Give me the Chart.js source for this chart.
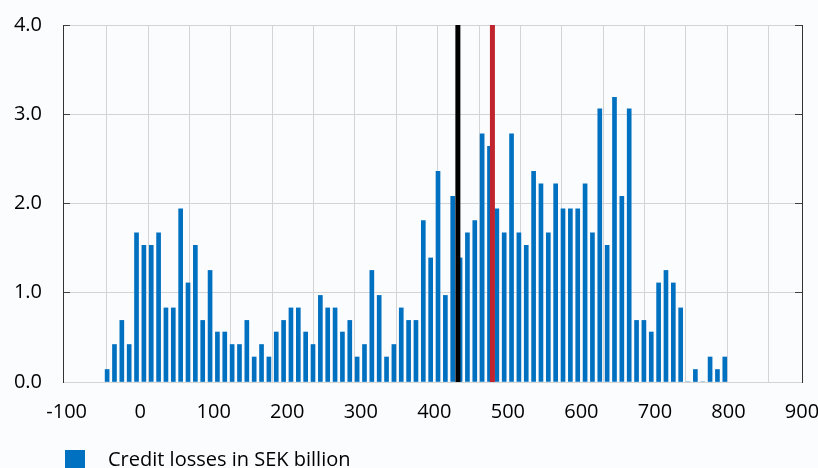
<!DOCTYPE html>
<html>
<head>
<meta charset="utf-8">
<script src="https://cdn.jsdelivr.net/npm/chart.js@4.4.1/dist/chart.umd.min.js"></script>
<style>
  html, body { margin: 0; padding: 0; background: #fbfcfe; overflow: hidden; }
</style>
</head>
<body>
<canvas id="perdidas" width="818" height="480"></canvas>
<script>
// bins of credit losses (centre of each 10 bn bin)
var binCentres = [-45,-35,-25,-15,-5,5,15,25,35,45,55,65,75,85,95,105,115,125,135,145,155,
  165,175,185,195,205,215,225,235,245,255,265,275,285,295,305,315,325,335,345,355,365,375,385,395,405,415,
  425,435,445,455,465,475,485,495,505,515,525,535,545,555,565,575,585,595,605,615,625,635,645,655,665,675,
  685,695,705,715,725,735,745,755,765,775,785,795];

// share of outcomes (per cent)
var frequency = [0.14,0.42,0.69,0.42,1.67,1.53,1.53,1.67,0.83,0.83,1.94,1.11,1.53,0.69,1.25,0.56,0.56,0.42,0.42,0.69,0.28,
  0.42,0.28,0.56,0.69,0.83,0.83,0.56,0.42,0.97,0.83,0.83,0.56,0.69,0.28,0.42,1.25,0.97,0.28,0.42,0.83,0.69,0.69,1.81,1.39,2.36,0.97,
  2.08,1.39,1.67,1.81,2.78,2.64,1.94,1.67,2.78,1.67,1.53,2.36,2.22,1.67,2.22,1.94,1.94,1.94,2.22,1.67,3.06,1.53,3.19,2.08,3.06,0.69,
  0.69,0.56,1.11,1.25,1.11,0.83,0,0.14,0,0.28,0.14,0.28];

var xTicks = [-100,0,100,200,300,400,500,600,700,800,900];
var xGrid = [-45,15,75,135,195,255,315,375,435,495,555,615,675,735,795,855];
var yTicks = [0,1,2,3,4];

var blackLine = 432;
var redLine = 479;

var fuente = { family: "'Open Sans', sans-serif", size: 20 };

// legend swatch: blue square with some room before the text
var muestra = document.createElement('canvas');
muestra.width = 33;
muestra.height = 20;
var mctx = muestra.getContext('2d');
mctx.fillStyle = '#0070C0';
mctx.fillRect(0, 0, 20, 20);

var barras = [];
for (var i = 0; i < binCentres.length; i++) {
  barras.push({ x: binCentres[i], y: frequency[i] });
}

function ponerTicks(valores) {
  return function (scale) {
    scale.ticks = valores.map(function (v) { return { value: v }; });
  };
}

function medida(prop, valor) {
  return function (scale) {
    scale[prop] = valor;
    scale.paddingTop = 0;
    scale.paddingBottom = 0;
    scale.paddingLeft = 0;
    scale.paddingRight = 0;
  };
}

var ctx = document.getElementById('perdidas');
var grafico = new Chart(ctx, {
  type: 'bar',
  data: {
    datasets: [
      {
        label: 'Credit losses in SEK billion',
        data: barras,
        backgroundColor: '#0070C0',
        barThickness: 4,
        order: 2
      },
      {
        type: 'line',
        label: 'black',
        data: [{ x: blackLine, y: 0 }, { x: blackLine, y: 4 }],
        borderColor: '#000000',
        borderWidth: 5,
        pointRadius: 0,
        order: 1
      },
      {
        type: 'line',
        label: 'red',
        data: [{ x: redLine, y: 0 }, { x: redLine, y: 4 }],
        borderColor: '#C0252F',
        borderWidth: 5,
        pointRadius: 0,
        order: 1
      }
    ]
  },
  options: {
    responsive: false,
    animation: false,
    layout: { padding: { top: 25, left: 0, right: 0, bottom: 0 } },
    plugins: {
      tooltip: { enabled: false },
      legend: {
        position: 'bottom',
        align: 'start',
        fullSize: false,
        labels: {
          font: fuente,
          color: '#000000',
          usePointStyle: true,
          pointStyle: muestra,
          pointStyleWidth: 33,
          boxHeight: 20,
          padding: 2,
          filter: function (item) { return item.datasetIndex === 0; }
        }
      }
    },
    scales: {
      x: {
        type: 'linear',
        min: -105,
        max: 900,
        offset: false,
        afterBuildTicks: ponerTicks(xTicks),
        afterFit: medida('height', 66),
        ticks: { font: fuente, color: '#000000', padding: 18, maxRotation: 0 },
        grid: { display: false, drawTicks: false },
        border: { color: '#d4d4d4' }
      },
      xg: {
        type: 'linear',
        position: 'top',
        min: -105,
        max: 900,
        afterBuildTicks: ponerTicks(xGrid),
        afterFit: medida('height', 0),
        ticks: { display: false },
        grid: { color: '#d4d4d4', drawTicks: false },
        border: { display: false }
      },
      y: {
        min: 0,
        max: 4,
        afterBuildTicks: ponerTicks(yTicks),
        afterFit: medida('width', 63),
        ticks: {
          font: fuente,
          color: '#000000',
          padding: 28,
          callback: function (v) { return v.toFixed(1); }
        },
        grid: { color: '#d4d4d4', tickColor: '#404040', tickLength: -7 },
        border: { color: '#333333' }
      },
      y2: {
        position: 'right',
        min: 0,
        max: 4,
        afterBuildTicks: ponerTicks(yTicks),
        afterFit: medida('width', 16),
        ticks: { display: false },
        grid: { drawOnChartArea: false, tickColor: '#404040', tickLength: -7 },
        border: { color: '#333333' }
      }
    }
  }
});
</script>
</body>
</html>
